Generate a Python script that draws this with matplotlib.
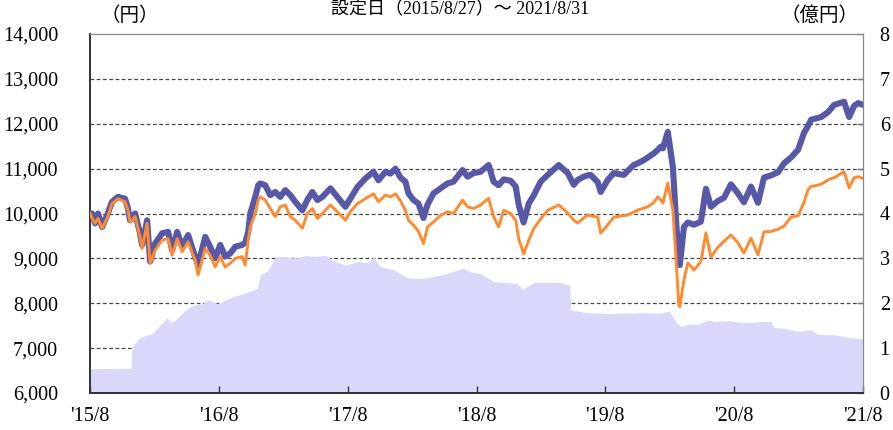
import matplotlib
matplotlib.use("Agg")
import matplotlib.pyplot as plt

plt.rcParams['font.family'] = ['Liberation Serif', 'Noto Sans CJK JP']

# months since 2015/8 for the two price lines
months = [0.0, 0.19, 0.47, 0.75, 1.12, 1.59, 2.05, 2.61, 3.26, 3.54, 3.73, 4.20, 4.66, 4.85,
          5.32, 5.60, 6.06, 6.72, 7.28, 7.65, 8.12, 8.58, 9.14, 9.79, 10.07, 10.73, 11.19,
          11.66, 12.13, 12.59, 13.06, 13.53, 14.18, 14.46, 14.74, 14.93, 15.39, 15.67, 15.86,
          16.32, 16.79, 17.26, 17.72, 18.19, 18.66, 19.12, 19.78, 20.24, 20.71, 21.18, 21.64,
          22.39, 23.04, 23.79, 24.25, 24.91, 25.65, 26.40, 26.87, 27.52, 27.99, 28.45, 28.92,
          29.38, 29.66, 30.13, 30.60, 31.06, 31.44, 32.00, 32.65, 33.30, 33.86, 34.70, 35.17,
          35.73, 36.38, 37.13, 37.59, 38.06, 38.53, 39.18, 39.65, 39.93, 40.39, 40.86, 41.32,
          41.98, 42.63, 43.66, 44.50, 45.06, 45.43, 45.99, 46.36, 46.64, 47.29, 47.57, 48.23,
          48.79, 49.72, 50.09, 50.65, 51.03, 51.59, 51.96, 52.52, 52.89, 53.17, 53.36, 53.82,
          54.29, 54.57, 54.85, 54.94, 55.32, 55.69, 56.25, 56.90, 57.37, 57.84, 58.49, 59.05,
          59.70, 60.35, 60.91, 61.57, 62.22, 62.78, 63.43, 64.09, 64.65, 65.30, 65.95, 66.51,
          66.88, 67.16, 68.10, 68.75, 69.31, 70.24, 70.71, 71.18, 71.55, 72.0]

# 基準価額（分配金再投資）
nav_reinvested = [10000, 10000, 9780, 10000, 9700, 9960, 10260, 10370, 10330, 10110, 9850, 10000,
                  9560, 9300, 9850, 8930, 9330, 9560, 9590, 9180, 9590, 9260, 9520, 9040, 8850,
                  9480, 9260, 9000, 9300, 9040, 9110, 9260, 9300, 9350, 9600, 10000, 10370, 10630,
                  10670, 10630, 10410, 10480, 10370, 10520, 10410, 10260, 10070, 10300, 10480,
                  10300, 10370, 10560, 10370, 10150, 10330, 10590, 10780, 10930, 10740, 10930,
                  10890, 11000, 10800, 10710, 10450, 10300, 10220, 9900, 10200, 10450, 10560,
                  10670, 10710, 10970, 10820, 10900, 10930, 11080, 10710, 10630, 10760, 10730,
                  10600, 10200, 9800, 10220, 10400, 10710, 10860, 11080, 10900, 10640, 10750,
                  10820, 10850, 10860, 10700, 10480, 10750, 10900, 10860, 10950, 11080, 11120,
                  11190, 11250, 11340, 11420, 11490, 11450, 11820, 11040, 9920, 8900, 8850, 9700,
                  9800, 9750, 9820, 10550, 10150, 10280, 10350, 10650, 10450, 10250, 10600, 10240,
                  10800, 10850, 10920, 11120, 11250, 11420, 11800, 11950, 12090, 12150, 12260,
                  12420, 12490, 12150, 12400, 12460, 12420]

# 基準価額
nav = [10000, 9900, 9780, 9890, 9670, 9890, 10220, 10330, 10260, 10070, 9810, 9930, 9480, 9220,
       9780, 8890, 9180, 9410, 9440, 9070, 9440, 9150, 9370, 8960, 8630, 9220, 9070, 8810, 9040,
       8810, 8890, 9000, 9040, 8850, 9410, 9700, 10000, 10300, 10370, 10300, 10110, 9930, 10150,
       10190, 9930, 9850, 9670, 10000, 10110, 9890, 10000, 10190, 10040, 9850, 10040, 10220,
       10330, 10440, 10260, 10410, 10370, 10440, 10280, 10070, 9850, 9740, 9600, 9330, 9700,
       9810, 9960, 10040, 10000, 10300, 10150, 10110, 10190, 10340, 9930, 9700, 10070, 10000,
       9850, 9440, 9100, 9400, 9660, 9880, 10070, 10190, 10010, 9850, 9790, 9900, 9970, 9950,
       9920, 9560, 9750, 9920, 9950, 9970, 10030, 10080, 10120, 10150, 10250, 10370, 10300,
       10230, 10680, 10080, 9040, 7950, 7920, 8520, 8900, 8740, 8930, 9570, 9030, 9250, 9380,
       9520, 9350, 9120, 9450, 9080, 9590, 9600, 9650, 9720, 9920, 9950, 10250, 10530, 10600,
       10650, 10750, 10800, 10930, 10570, 10800, 10820, 10780]

# 純資産総額（億円）
asset_months = [0.0, 3.54, 3.82, 3.92, 4.48, 5.13, 5.78, 6.34, 7.18, 7.46, 7.93, 8.86, 9.61,
                10.45, 11.01, 11.94, 12.87, 13.81, 14.74, 15.58, 15.86, 16.60, 17.26, 18.19,
                19.12, 20.06, 20.99, 21.92, 22.85, 23.79, 25.00, 25.93, 26.40, 27.05, 28.26,
                29.57, 30.78, 32.00, 33.30, 34.70, 35.45, 36.38, 37.59, 38.90, 39.83, 40.30,
                41.32, 42.63, 43.84, 44.68, 44.78, 46.36, 48.79, 51.31, 53.17, 53.92, 54.57,
                55.04, 55.69, 56.62, 57.56, 58.12, 59.42, 60.91, 62.50, 63.43, 63.71, 64.65,
                65.95, 67.16, 67.63, 68.10, 69.31, 70.62, 71.83, 72.0]
net_assets = [0.54, 0.55, 0.55, 1.02, 1.21, 1.28, 1.32, 1.46, 1.68, 1.58, 1.62, 1.84, 1.96, 1.99,
              2.07, 1.99, 2.10, 2.18, 2.25, 2.33, 2.63, 2.74, 3.04, 3.04, 3.00, 3.07, 3.04, 3.07,
              2.93, 2.85, 2.93, 2.90, 3.04, 2.81, 2.75, 2.57, 2.55, 2.60, 2.66, 2.78, 2.70, 2.66,
              2.48, 2.46, 2.44, 2.31, 2.46, 2.46, 2.46, 2.40, 1.85, 1.79, 1.77, 1.79, 1.78, 1.83,
              1.59, 1.48, 1.53, 1.53, 1.63, 1.59, 1.61, 1.57, 1.59, 1.59, 1.46, 1.44, 1.37, 1.41,
              1.33, 1.30, 1.30, 1.24, 1.21, 1.20]

tick_labels = ["'15/8", "'16/8", "'17/8", "'18/8", "'19/8", "'20/8", "'21/8"]
left_ticks = [6000, 7000, 8000, 9000, 10000, 11000, 12000, 13000, 14000]
right_ticks = [0, 1, 2, 3, 4, 5, 6, 7, 8]

fig = plt.figure(figsize=(8.93, 4.30), dpi=100)
ax = fig.add_axes([90 / 893, 1 - 393 / 430, 773 / 893, 359 / 430])
ax2 = ax.twinx()

# net assets area on the right scale, drawn over the grid
ax2.fill_between(asset_months, net_assets, 0, color='#d8d8fa', linewidth=0, zorder=2)
for v in range(1, 8):
    ax2.axhline(v, color='#444444', linestyle=(0, (3, 2)), linewidth=0.9, zorder=1)
ax2.set_ylim(0, 8)
ax2.set_yticks(right_ticks)
ax2.set_yticklabels([str(v) for v in right_ticks])
ax2.tick_params(axis='y', direction='in', length=4, width=1, color='#777777',
                labelsize=14.5, pad=12)

# price lines on the left scale, on top
ax.set_zorder(ax2.get_zorder() + 1)
ax.patch.set_visible(False)
ax.plot(months, nav_reinvested, color='#5858a8', linewidth=4.4, solid_joinstyle='round',
        solid_capstyle='round', zorder=3)
ax.plot(months, nav, color='#ff8a30', linewidth=2.1, zorder=4)
ax.set_xlim(0, 72)
ax.set_ylim(6000, 14000)
ax.set_yticks(left_ticks)
ax.set_yticklabels([f"{v:,}" for v in left_ticks])
ax.set_xticks(range(0, 73, 12))
ax.set_xticklabels(tick_labels)
ax.tick_params(axis='y', length=0, labelsize=14.5, pad=23)
ax.tick_params(axis='x', direction='in', length=5, width=1, color='#333333',
               labelsize=14.5, pad=10)

for a in (ax, ax2):
    a.spines['left'].set_color('#333333')
    a.spines['left'].set_linewidth(1.2)
    a.spines['bottom'].set_color('#333333')
    a.spines['bottom'].set_linewidth(1.4)
    a.spines['top'].set_color('#888888')
    a.spines['right'].set_color('#888888')

fig.text(100 / 893, 1 - 16 / 430, '（円）', fontsize=14, ha='left', va='center')
fig.text(858 / 893, 1 - 16 / 430, '（億円）', fontsize=14, ha='right', va='center')
fig.text(460 / 893, 1 - 1 / 430, '設定日（2015/8/27）～ 2021/8/31', fontsize=13,
         ha='center', va='top')

fig.savefig('out.png', dpi=100)
